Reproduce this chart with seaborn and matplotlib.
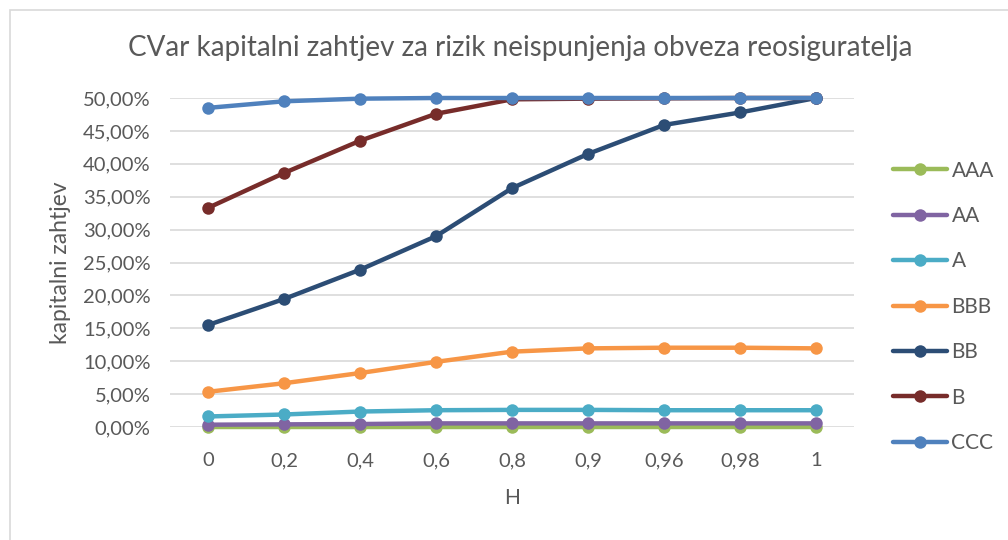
import numpy as np
import pandas as pd
import matplotlib
matplotlib.use("Agg")
import matplotlib.pyplot as plt
import seaborn as sns
from matplotlib.ticker import FuncFormatter
from matplotlib.patches import Rectangle

# H levels (categorical x axis)
h_labels = ['0', '0,2', '0,4', '0,6', '0,8', '0,9', '0,96', '0,98', '1']
ratings = ['AAA', 'AA', 'A', 'BBB', 'BB', 'B', 'CCC']

# capital requirement in %
aaa = [0.05, 0.05, 0.05, 0.05, 0.05, 0.05, 0.05, 0.05, 0.05]
aa = [0.35, 0.40, 0.45, 0.55, 0.55, 0.55, 0.55, 0.55, 0.55]
a = [1.6, 1.9, 2.35, 2.55, 2.6, 2.6, 2.55, 2.55, 2.55]
bbb = [5.35, 6.65, 8.2, 9.9, 11.45, 11.95, 12.05, 12.05, 11.95]
bb = [15.5, 19.45, 23.9, 29.0, 36.3, 41.5, 45.9, 47.8, 50.0]
b = [33.3, 38.6, 43.5, 47.6, 49.8, 49.9, 49.95, 50.0, 50.0]
ccc = [48.5, 49.5, 49.9, 50.0, 50.0, 50.0, 50.0, 50.0, 50.0]

colors = ['#9BBB59', '#8064A2', '#4BACC6', '#F79646', '#2C4D75', '#772C2A', '#4F81BD']

series = [aaa, aa, a, bbb, bb, b, ccc]
rows = []
for name, vals in zip(ratings, series):
    for i, v in enumerate(vals):
        rows.append({'pos': i, 'value': v, 'rating': name})
df = pd.DataFrame(rows)

sns.set_theme(style='white')
plt.rcParams['font.family'] = ['Lato', 'DejaVu Sans']
text_col = '#595959'

fig = plt.figure(figsize=(10.08, 5.4), dpi=100)
ax = fig.add_axes([170 / 1008, 1 - 427 / 540, 684 / 1008, 329 / 540])

# outer chart border
fig.patches.append(Rectangle((10 / 1008, -0.01), 1.05, 1 - 10 / 540 + 0.01,
                             transform=fig.transFigure, fill=False,
                             edgecolor='#D9D9D9', linewidth=1.2))

sns.lineplot(data=df, x='pos', y='value', hue='rating', hue_order=ratings,
             palette=colors, marker='o', markersize=9, markeredgewidth=0,
             linewidth=3.2, sort=False, ax=ax)

ax.set_xlim(-0.5, 8.5)
ax.set_ylim(0, 50)
ax.set_yticks(np.arange(0, 51, 5))
ax.yaxis.set_major_formatter(FuncFormatter(lambda v, p: f'{v:.2f}%'.replace('.', ',')))
ax.set_xticks(range(len(h_labels)))
ax.set_xticklabels(h_labels)
ax.grid(axis='y', color='#D9D9D9', linewidth=1.2)
ax.set_axisbelow(True)
for s in ax.spines.values():
    s.set_visible(False)
ax.tick_params(axis='both', length=0, labelsize=14.5, colors=text_col, pad=14)
ax.tick_params(axis='x', pad=18)
for line in ax.lines:
    line.set_clip_on(False)

ax.set_xlabel('H', fontsize=15, color=text_col, labelpad=14)
ax.set_ylabel('kapitalni zahtjev', fontsize=16.5, color=text_col)
ax.yaxis.set_label_coords((71 - 170) / 684, 0.5)
fig.text(520 / 1008, 1 - 48 / 540, 'CVar kapitalni zahtjev za rizik neispunjenja obveza reosiguratelja',
         ha='center', va='center', fontsize=20, color=text_col)

handles, labels = ax.get_legend_handles_labels()
leg = ax.legend(handles, labels, loc='upper left', bbox_to_anchor=(1.045, 0.835),
                frameon=False, fontsize=15, labelspacing=1.22, handlelength=2.6,
                handletextpad=0.2, borderaxespad=0)
for t in leg.get_texts():
    t.set_color(text_col)

fig.savefig('out.png', dpi=100)
